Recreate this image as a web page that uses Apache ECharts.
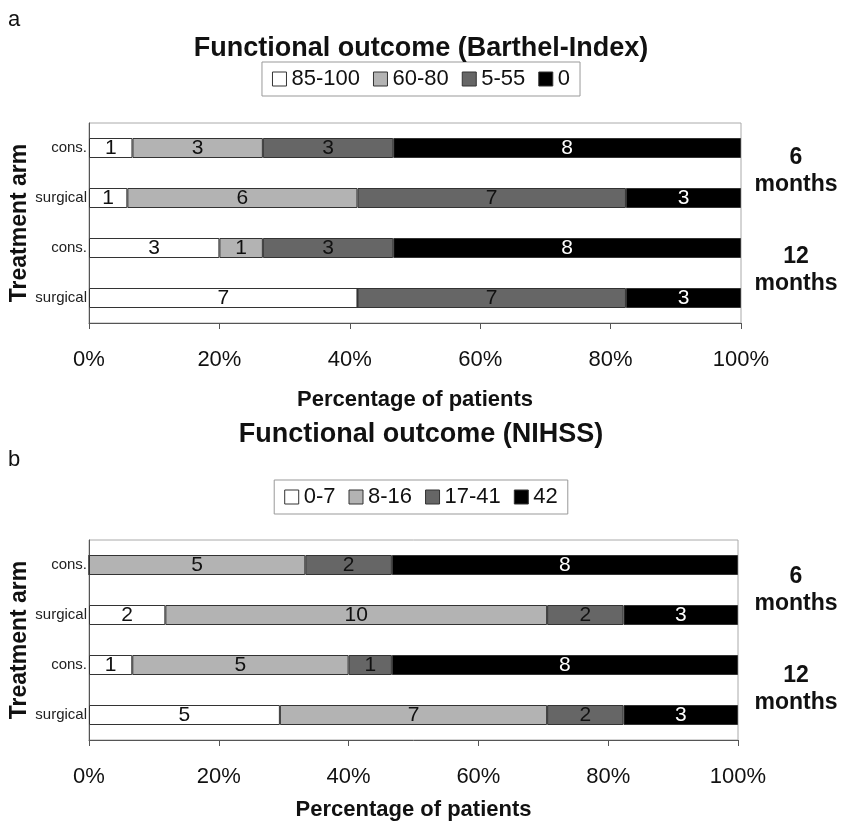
<!DOCTYPE html>
<html>
<head>
<meta charset="utf-8">
<title>Functional outcome</title>
<script src="https://cdn.jsdelivr.net/npm/echarts@6/dist/echarts.min.js"></script>
<style>
  html, body { margin: 0; padding: 0; background: #fff; }
  #chart { width: 842px; height: 823px; }
</style>
</head>
<body>
<div id="chart"></div>
<script>
// rows, top to bottom: 6 months (cons., surgical), 12 months (cons., surgical)
var armLabels = ['cons.', 'surgical', 'cons.', 'surgical'];
var rowKeys = ['c6', 's6', 'c12', 's12'];
var xTicks = [0, 20, 40, 60, 80, 100];

// panel a: Barthel-Index groups, counts of patients
var barthelGroups = ['85-100', '60-80', '5-55', '0'];
var barthel_85_100 = [1, 1, 3, 7];
var barthel_60_80 = [3, 6, 1, 0];
var barthel_5_55 = [3, 7, 3, 7];
var barthel_0 = [8, 3, 8, 3];

// panel b: NIHSS groups, counts of patients
var nihssGroups = ['0-7', '8-16', '17-41', '42'];
var nihss_0_7 = [0, 2, 1, 5];
var nihss_8_16 = [5, 10, 5, 7];
var nihss_17_41 = [2, 2, 1, 2];
var nihss_42 = [8, 3, 8, 3];

var fills = ['#ffffff', '#b3b3b3', '#666666', '#000000'];
var labelColors = ['#111', '#111', '#111', '#fff'];
var FONT = '"Liberation Sans", Arial, sans-serif';

function buildSeries(groups, countLists, axisIdx) {
  var totals = rowKeys.map(function (k, i) {
    return countLists.reduce(function (s, arr) { return s + arr[i]; }, 0);
  });
  return countLists.map(function (counts, si) {
    return {
      name: groups[si],
      type: 'bar',
      stack: 'p' + axisIdx,
      xAxisIndex: axisIdx,
      yAxisIndex: axisIdx,
      barWidth: 20,
      itemStyle: { color: fills[si], borderColor: '#333', borderWidth: 1 },
      label: {
        show: true,
        position: 'inside',
        fontFamily: FONT,
        fontSize: 21,
        color: labelColors[si],
        formatter: function (p) { return counts[p.dataIndex] ? String(counts[p.dataIndex]) : ''; }
      },
      emphasis: { disabled: true },
      data: counts.map(function (c, i) { return c / totals[i] * 100; })
    };
  });
}

function xAxisFor(idx, gap) {
  return {
    type: 'value', gridIndex: idx, min: 0, max: 100, interval: 20,
    name: 'Percentage of patients', nameLocation: 'middle', nameGap: gap,
    nameTextStyle: { fontFamily: FONT, fontSize: 22, fontWeight: 'bold', color: '#111' },
    axisLine: { show: true, lineStyle: { color: '#555' } },
    axisTick: { show: true, length: 6, lineStyle: { color: '#555' } },
    axisLabel: { margin: 26, fontFamily: FONT, fontSize: 22, color: '#111',
      formatter: function (v) { return xTicks.indexOf(v) >= 0 ? v + '%' : ''; } },
    splitLine: { show: false }
  };
}

function yAxisFor(idx) {
  return {
    type: 'category', gridIndex: idx, inverse: true, data: rowKeys,
    name: 'Treatment arm', nameLocation: 'middle', nameRotate: 90, nameGap: 58,
    nameMoveOverlap: false,
    nameTextStyle: { fontFamily: FONT, fontSize: 23, fontWeight: 'bold', color: '#111' },
    axisLine: { show: true, lineStyle: { color: '#555' } },
    axisTick: { show: false },
    axisLabel: { margin: 2, fontFamily: FONT, fontSize: 15, color: '#222',
      formatter: function (v) { return armLabels[rowKeys.indexOf(v)]; } }
  };
}

function legendFor(groups, top) {
  return {
    data: groups, top: top, left: 'center',
    padding: [6, 10, 6, 10], itemGap: 13, itemWidth: 14, itemHeight: 14,
    borderColor: '#999', borderWidth: 1,
    icon: 'rect',
    textStyle: { fontFamily: FONT, fontSize: 22, color: '#111' },
    itemStyle: { borderColor: '#333', borderWidth: 1 },
    selectedMode: false
  };
}

var monthText = { fontFamily: FONT, fontSize: 23, fontWeight: 'bold', fill: '#111',
  textAlign: 'center', textVerticalAlign: 'top', lineHeight: 27 };
function monthLabel(txt, y) {
  return { type: 'text', x: 796, y: y, style: Object.assign({ text: txt }, monthText) };
}

var chart = echarts.init(document.getElementById('chart'));
chart.setOption({
  backgroundColor: '#fff',
  animation: false,
  title: [
    { text: 'Functional outcome (Barthel-Index)', left: 'center', top: 35, padding: 0,
      textStyle: { fontFamily: FONT, fontSize: 27, fontWeight: 'bold', color: '#111' } },
    { text: 'a', left: 8, top: 9, padding: 0, textStyle: { fontFamily: FONT, fontSize: 22, fontWeight: 'normal', color: '#111' } },
    { text: 'Functional outcome (NIHSS)', left: 'center', top: 421, padding: 0,
      textStyle: { fontFamily: FONT, fontSize: 27, fontWeight: 'bold', color: '#111' } },
    { text: 'b', left: 8, top: 449, padding: 0, textStyle: { fontFamily: FONT, fontSize: 22, fontWeight: 'normal', color: '#111' } }
  ],
  legend: [legendFor(barthelGroups, 62), legendFor(nihssGroups, 480)],
  grid: [
    { left: 89, right: 101, top: 123, height: 200, show: true, borderColor: '#aaa', borderWidth: 1,
      containLabel: false, outerBoundsMode: 'none' },
    { left: 89, right: 104, top: 540, height: 200, show: true, borderColor: '#aaa', borderWidth: 1,
      containLabel: false, outerBoundsMode: 'none' }
  ],
  xAxis: [xAxisFor(0, 66), xAxisFor(1, 59)],
  yAxis: [yAxisFor(0), yAxisFor(1)],
  series: buildSeries(barthelGroups, [barthel_85_100, barthel_60_80, barthel_5_55, barthel_0], 0)
    .concat(buildSeries(nihssGroups, [nihss_0_7, nihss_8_16, nihss_17_41, nihss_42], 1)),
  graphic: [
    monthLabel('6\nmonths', 144),
    monthLabel('12\nmonths', 243),
    monthLabel('6\nmonths', 563),
    monthLabel('12\nmonths', 662)
  ]
});
</script>
</body>
</html>
